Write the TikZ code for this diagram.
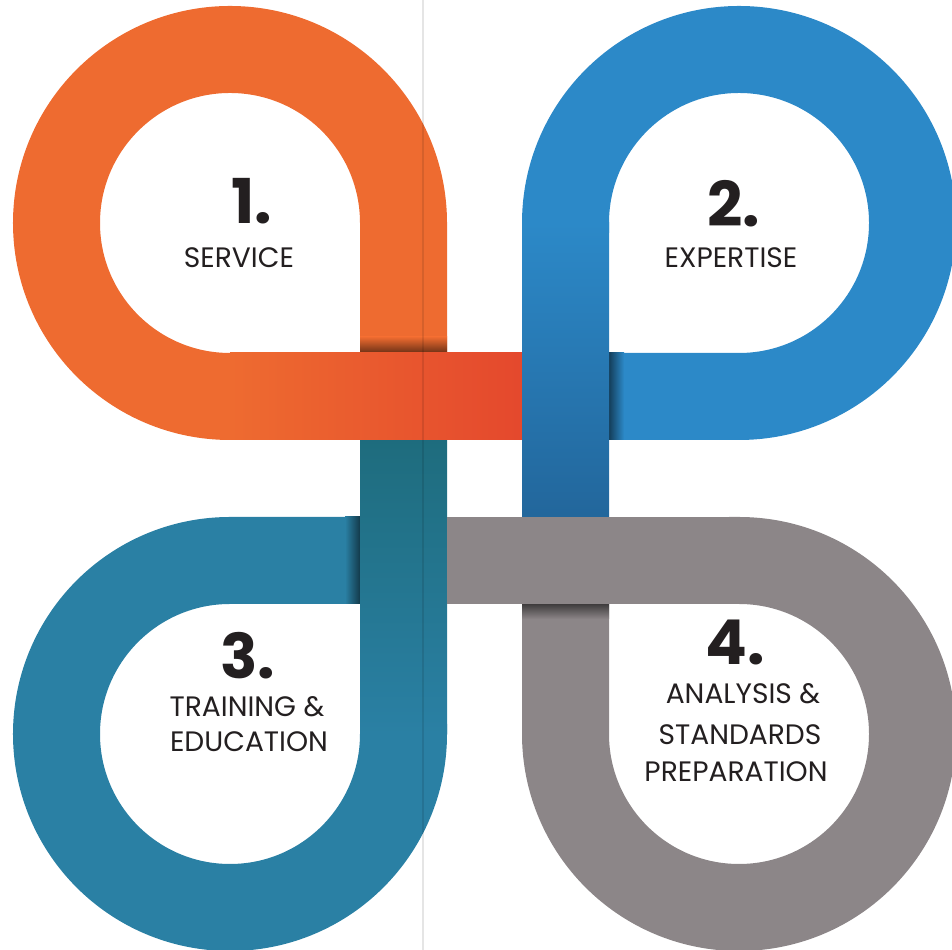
\documentclass[tikz,border=0pt]{standalone}
\usepackage{fontspec}
\setmainfont{Poppins}
\definecolor{orangeL}{HTML}{EE6B30}
\definecolor{orangeR}{HTML}{E4482D}
\definecolor{blueL}{HTML}{2C89C8}
\definecolor{blueD}{HTML}{22669B}
\definecolor{tealL}{HTML}{2A80A4}
\definecolor{tealD}{HTML}{1E6C7D}
\definecolor{grayB}{HTML}{8C8688}
\definecolor{txt}{HTML}{231F20}
\begin{document}
\begin{tikzpicture}[x=0.25mm,y=0.25mm,
  band/.style={line width=21.75mm, line cap=butt, line join=round},
  numlbl/.style={inner sep=0pt, anchor=base, text=txt, font=\fontsize{44}{48}\selectfont\bfseries},
  txtlbl/.style={inner sep=0pt, anchor=base, text=txt, font=\fontsize{20}{24}\selectfont}]
\useasboundingbox (0,0) rectangle (952,950);
\clip (0,0) rectangle (952,950);
% loops with their under-passing straight parts
\draw[band, orangeL] (240,553.5) -- (230,553.5) arc[start angle=270, end angle=0, radius=43.375mm] -- (403.5,553.5);
\draw[band, blueL] (565.5,717) -- (565.5,727) arc[start angle=180, end angle=-90, radius=43.375mm] -- (565.5,553.5);
\draw[band, grayB] (729,389.5) -- (739,389.5) arc[start angle=90, end angle=-180, radius=43.375mm] -- (565.5,389.5);
\draw[band, tealL] (403.5,226) -- (403.5,216) arc[start angle=0, end angle=-270, radius=43.375mm] -- (403.5,389.5);
% shadows where a band passes under
\shade[top color=orangeL, bottom color=orangeL!45!black] (360,597) rectangle (447,613);
\shade[left color=blueL!45!black, right color=blueL] (609,510) rectangle (624,597);
\shade[top color=grayB!45!black, bottom color=grayB] (522,331) rectangle (609,346);
\shade[left color=tealL, right color=tealL!45!black] (345,346) rectangle (360,433);
% over-passing straight parts
\shade[top color=tealD, bottom color=tealL] (360,216) rectangle (447,514);
\shade[left color=orangeL, right color=orangeR] (230,510) rectangle (526,597);
\shade[top color=blueL, bottom color=blueD] (522,429) rectangle (609,727);
\fill[grayB] (447,346) rectangle (739,433);
% page gutter
\draw[black, opacity=0.1, line width=0.3mm] (423,0) -- (423,950);
% labels
\node[numlbl] (n1) at (252,726) {1.};
\node[txtlbl] (l1) at (239,682) {SERVICE};
\node[numlbl] (n2) at (734,723) {2.};
\node[txtlbl] (l2) at (731,682) {EXPERTISE};
\node[numlbl] (n3) at (248,271) {3.};
\node[txtlbl] (l3a) at (247,233) {TRAINING \&};
\node[txtlbl] (l3b) at (249,198) {EDUCATION};
\node[numlbl] (n4) at (735,285) {4.};
\node[txtlbl] (l4a) at (743,246) {ANALYSIS \&};
\node[txtlbl] (l4b) at (740,205) {STANDARDS};
\node[txtlbl] (l4c) at (736,168) {PREPARATION};
\end{tikzpicture}
\end{document}
